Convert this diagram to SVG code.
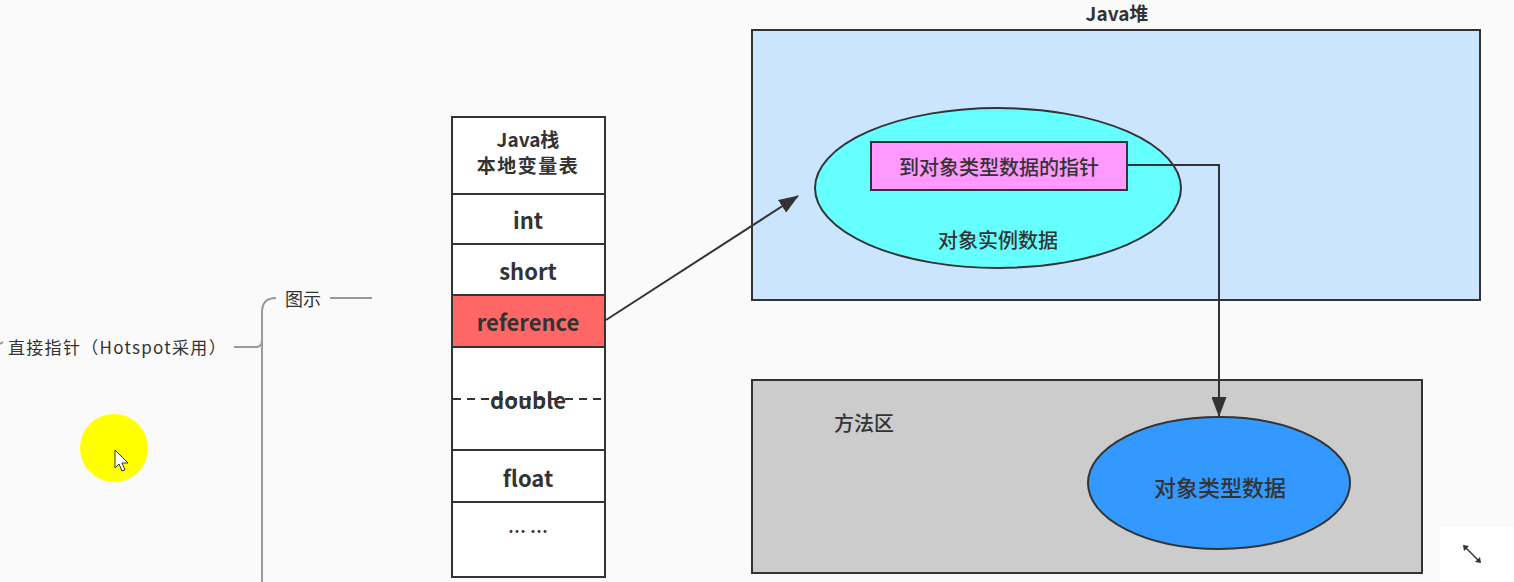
<svg xmlns="http://www.w3.org/2000/svg" width="1514" height="582" viewBox="0 0 1514 582">
<defs>
<style>
.t{font-family:"Noto Sans CJK SC","Liberation Sans",sans-serif;fill:#333;text-anchor:middle}
.b{font-weight:bold}
.m{font-weight:500}
.cell{fill:#fff;stroke:#333;stroke-width:2}
.mm{stroke:#999;stroke-width:2;fill:none}
.conn{stroke:#333;stroke-width:2;fill:none}
</style>
<marker id="ah" viewBox="0 0 10 10" refX="9.5" refY="5" markerWidth="20" markerHeight="15" markerUnits="userSpaceOnUse" orient="auto" preserveAspectRatio="none">
<path d="M0,0 L10,5 L0,10 Z" fill="#333"/>
</marker>
</defs>
<rect width="1514" height="582" fill="#fafafa"/>

<g id="mindmap">
<path class="mm" d="M0,344 L3,342"/>
<text class="t" x="8" y="354" font-size="17" style="text-anchor:start" letter-spacing="1.3">直接指针（Hotspot采用）</text>
<path class="mm" d="M234,347 L258,347"/>
<path class="mm" d="M276,298 Q262,298 262,312 L262,340 Q262,347 256,347 M262,340 L262,582"/>
<text class="t" x="303" y="306" font-size="18">图示</text>
<path class="mm" d="M330,298 L372,298"/>
</g>

<g id="stack">
<rect class="cell" x="452" y="117" width="153" height="77"/>
<text class="t b" x="528" y="147" font-size="19">Java栈</text>
<text class="t b" x="528" y="173" font-size="19" letter-spacing="1.5">本地变量表</text>
<rect class="cell" x="452" y="194" width="153" height="50"/>
<text class="t b" x="528" y="229" font-size="22">int</text>
<rect class="cell" x="452" y="244" width="153" height="51"/>
<text class="t b" x="528" y="280" font-size="22">short</text>
<rect x="452" y="295" width="153" height="52" fill="#ff6666" stroke="#333" stroke-width="2"/>
<text class="t b" x="528" y="331" font-size="22">reference</text>
<rect class="cell" x="452" y="347" width="153" height="103"/>
<text class="t b" x="528" y="409" font-size="22">double</text>
<path d="M453,399 L604,399" stroke="#333" stroke-width="2" stroke-dasharray="8,6"/>
<rect class="cell" x="452" y="450" width="153" height="52"/>
<text class="t b" x="528" y="487" font-size="22">float</text>
<rect class="cell" x="452" y="502" width="153" height="75"/>
<text class="t b" x="528" y="538" font-size="18">… …</text>
</g>

<g id="heap">
<text class="t b" x="1117" y="21" font-size="19">Java堆</text>
<rect x="752" y="30" width="728" height="270" fill="#cce5ff" stroke="#333" stroke-width="2"/>
</g>

<g id="instance">
<ellipse cx="998" cy="188" rx="183" ry="80" fill="#66ffff" stroke="#333" stroke-width="2"/>
<text class="t m" x="998" y="248" font-size="20">对象实例数据</text>
</g>

<g id="pointer">
<rect x="871" y="142" width="256" height="48" fill="#ff99ff" stroke="#333" stroke-width="2"/>
<text class="t m" x="999" y="175" font-size="20">到对象类型数据的指针</text>
</g>

<g id="method-area">
<rect x="752" y="380" width="670" height="193" fill="#cccccc" stroke="#333" stroke-width="2"/>
<text class="t m" x="864" y="431" font-size="20">方法区</text>
</g>

<g id="type-data">
<ellipse cx="1219" cy="483" rx="131" ry="66" fill="#3399ff" stroke="#333" stroke-width="2"/>
<text class="t m" x="1220" y="496" font-size="22">对象类型数据</text>
</g>

<g id="connectors">
<path class="conn" d="M606,320 L798,196" marker-end="url(#ah)"/>
<path class="conn" d="M1127,165 L1219,165 L1219,416" marker-end="url(#ah)"/>
</g>

<g id="overlay">
<circle cx="114" cy="448" r="34" fill="#ffff00"/>
<path d="M115,450 L115,468 L119,464 L122,471 L125,470 L122,463 L128,463 Z" fill="#fff" stroke="#333" stroke-width="1"/>
<rect x="1440" y="527" width="74" height="55" fill="#fff"/>
<path d="M1464,546 L1480,562" stroke="#333" stroke-width="1.5"/>
<path d="M1463,545 L1469,546 L1464,551 Z M1481,563 L1475,562 L1480,557 Z" fill="#333"/>
</g>
</svg>
